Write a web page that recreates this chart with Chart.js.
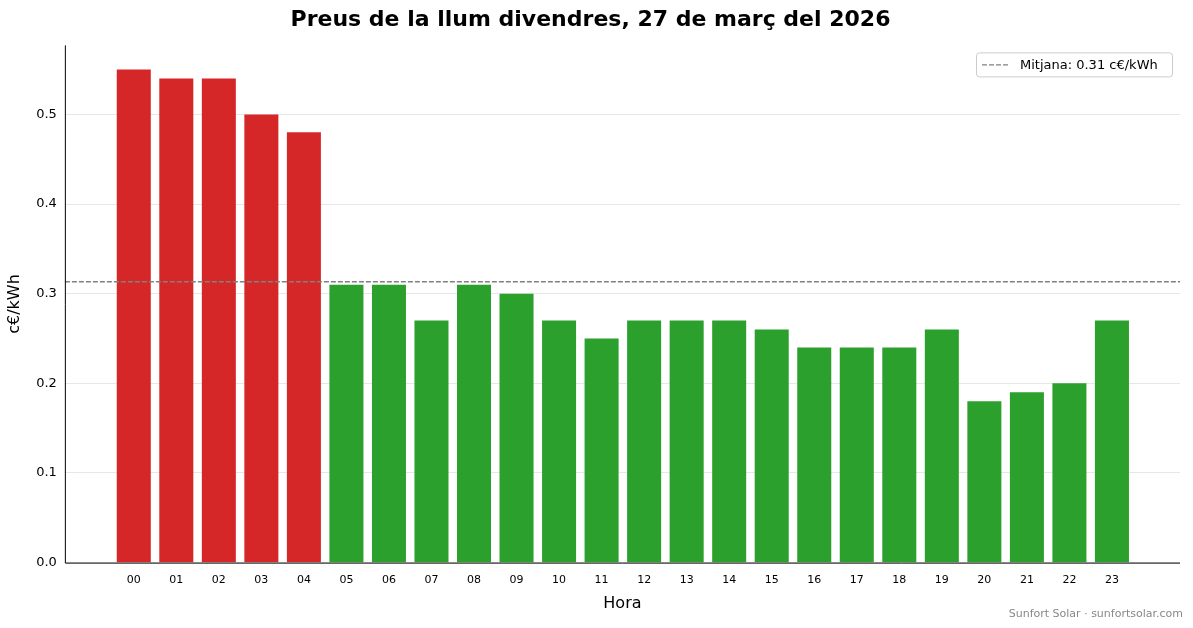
<!DOCTYPE html><html><head><meta charset="utf-8">
<script src="https://cdn.jsdelivr.net/npm/chart.js@4"></script>
<style>body{margin:0;background:#fff}#w{width:1193px;height:628px}</style></head><body>
<div id="w"><canvas id="c"></canvas></div>
<script>
const hours=["00","01","02","03","04","05","06","07","08","09","10","11","12","13","14","15","16","17","18","19","20","21","22","23"];
const prices=[0.55,0.54,0.54,0.50,0.48,0.31,0.31,0.27,0.31,0.30,0.27,0.25,0.27,0.27,0.27,0.26,0.24,0.24,0.24,0.26,0.18,0.19,0.20,0.27];
const meanLabel="Mitjana: 0.31 c€/kWh";
const mean=prices.reduce((a,b)=>a+b,0)/prices.length;
const colors=prices.map(v=>v>mean?"#d62728":"#2ca02c");
const F="DejaVu Sans";
const extras={id:'ex',afterDraw(ch){const c=ch.ctx,a=ch.chartArea;c.save();
c.strokeStyle='#000';c.lineWidth=1;c.beginPath();c.moveTo(a.left+0.5,a.top);c.lineTo(a.left+0.5,a.bottom+0.5);c.lineTo(a.right,a.bottom+0.5);c.stroke();
const x=a.right-204,y=a.top+7,w=196,h=24;c.fillStyle='rgba(255,255,255,0.8)';c.strokeStyle='#ccc';
c.beginPath();c.roundRect(x+0.5,y+0.5,w,h,3);c.fill();c.stroke();
c.strokeStyle='#808080';c.setLineDash([5,2]);c.lineWidth=1.3;c.beginPath();c.moveTo(x+6,y+12.5);c.lineTo(x+34,y+12.5);c.stroke();c.setLineDash([]);
c.fillStyle='#000';c.font='13px '+F;c.textBaseline='middle';c.fillText(meanLabel,x+44,y+13);
c.fillStyle='#888';c.font='11px '+F;c.textAlign='right';c.fillText('Sunfort Solar · sunfortsolar.com',1183,614);
c.restore();}};
new Chart(document.getElementById('c'),{type:'bar',
data:{datasets:[{data:prices.map((v,i)=>({x:i,y:v})),backgroundColor:colors,barPercentage:0.8,categoryPercentage:1,order:2},
{type:'line',data:[{x:-1.62,y:mean},{x:24.6,y:mean}],borderColor:'#808080',borderDash:[5,2],borderWidth:1.3,pointRadius:0,order:1}]},
plugins:[extras],
options:{responsive:true,maintainAspectRatio:false,animation:false,
layout:{padding:{left:1,right:13,top:4,bottom:11}},
plugins:{legend:{display:false},tooltip:{enabled:false},
title:{display:true,text:'Preus de la llum divendres, 27 de març del 2026',font:{family:F,size:22,weight:'bold'},color:'#000',padding:{top:3,bottom:12}}},
scales:{x:{type:'linear',min:-1.62,max:24.6,offset:false,grid:{display:false},border:{display:false},
afterBuildTicks(s){s.ticks=hours.map((h,i)=>({value:i}));},
ticks:{autoSkip:false,maxRotation:0,font:{family:F,size:11},color:'#000',callback:(v)=>hours[v]},
title:{display:true,text:'Hora',font:{family:F,size:16},color:'#000',padding:{top:4}}},
y:{min:0,max:0.577,border:{display:false},grid:{color:'rgba(0,0,0,0.12)',lineWidth:0.8,borderDash:[1,2],drawTicks:false},
afterBuildTicks(s){s.ticks=[0,0.1,0.2,0.3,0.4,0.5].map(v=>({value:v}));},
ticks:{padding:8,font:{family:F,size:13},color:'#000',callback:v=>v.toFixed(1)},
title:{display:true,text:'c€/kWh',font:{family:F,size:16},color:'#000'}}}}});
</script></body></html>
